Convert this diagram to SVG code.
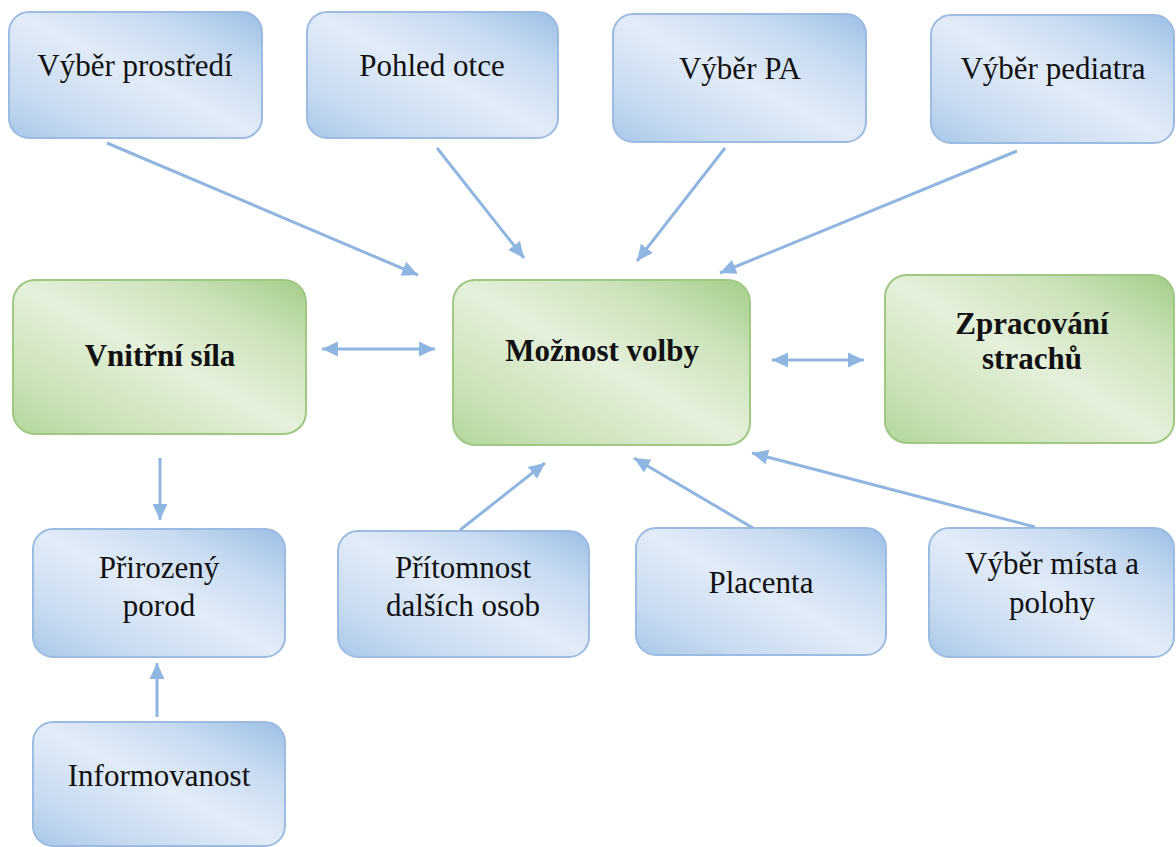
<svg xmlns="http://www.w3.org/2000/svg" width="1176" height="847" viewBox="0 0 1176 847">
<defs>
<linearGradient id="gb" x1="0" y1="1" x2="1" y2="0">
<stop offset="0" stop-color="#a9c7ea"/>
<stop offset="0.2" stop-color="#c6daf0"/>
<stop offset="0.5" stop-color="#e2ecf8"/>
<stop offset="0.75" stop-color="#c8dbf1"/>
<stop offset="1" stop-color="#9bbfe6"/>
</linearGradient>
<linearGradient id="gg" x1="0" y1="1" x2="1" y2="0">
<stop offset="0" stop-color="#b3d69a"/>
<stop offset="0.2" stop-color="#cae2b8"/>
<stop offset="0.5" stop-color="#e5f0db"/>
<stop offset="0.75" stop-color="#cce3bb"/>
<stop offset="1" stop-color="#a4cd87"/>
</linearGradient>
<marker id="ah" markerUnits="userSpaceOnUse" markerWidth="17" markerHeight="16" refX="16" refY="8" orient="auto-start-reverse" viewBox="0 0 17 16">
<path d="M0,0.5 L16,8 L0,15.5 z" fill="#8fb6e1"/>
</marker>
</defs>
<style>
.b{fill:url(#gb);stroke:#9dbbe0;stroke-width:2}
.g{fill:url(#gg);stroke:#9fc883;stroke-width:2}
text{font-family:'Liberation Serif','Times New Roman',serif;font-size:31px;fill:#111;text-anchor:middle}
.tb{font-weight:bold}
.c line{stroke:#8fb6e1;stroke-width:3;fill:none}
</style>
<rect width="1176" height="847" fill="#ffffff"/>

<g id="vyber-prostredi"><rect class="b" x="9" y="12" width="253" height="126" rx="20"/><text x="135" y="76">Výběr prostředí</text></g>
<g id="pohled-otce"><rect class="b" x="307" y="12" width="251" height="126" rx="20"/><text x="432" y="76">Pohled otce</text></g>
<g id="vyber-pa"><rect class="b" x="613" y="14" width="253" height="128" rx="20"/><text x="740" y="79">Výběr PA</text></g>
<g id="vyber-pediatra"><rect class="b" x="931" y="15" width="243" height="128" rx="20"/><text x="1053" y="79">Výběr pediatra</text></g>

<g id="vnitrni-sila"><rect class="g" x="13" y="280" width="293" height="154" rx="22"/><text class="tb" x="160" y="366">Vnitřní síla</text></g>
<g id="moznost-volby"><rect class="g" x="453" y="280" width="297" height="165" rx="22"/><text class="tb" x="602" y="361">Možnost volby</text></g>
<g id="zpracovani-strachu"><rect class="g" x="885" y="275" width="289" height="168" rx="22"/><text class="tb" x="1032" y="334">Zpracování</text><text class="tb" x="1032" y="369">strachů</text></g>

<g id="prirozeny-porod"><rect class="b" x="33" y="529" width="252" height="128" rx="20"/><text x="159" y="578">Přirozený</text><text x="159" y="616">porod</text></g>
<g id="pritomnost"><rect class="b" x="338" y="531" width="251" height="126" rx="20"/><text x="463" y="578">Přítomnost</text><text x="463" y="616">dalších osob</text></g>
<g id="placenta"><rect class="b" x="636" y="528" width="250" height="127" rx="20"/><text x="761" y="593">Placenta</text></g>
<g id="vyber-mista"><rect class="b" x="929" y="528" width="245" height="129" rx="20"/><text x="1052" y="574">Výběr místa a</text><text x="1052" y="613">polohy</text></g>
<g id="informovanost"><rect class="b" x="33" y="722" width="252" height="124" rx="20"/><text x="159" y="786">Informovanost</text></g>

<g class="c" id="connectors">
<line x1="107" y1="143" x2="418" y2="275" marker-end="url(#ah)"/>
<line x1="437" y1="148" x2="524" y2="258" marker-end="url(#ah)"/>
<line x1="725" y1="148" x2="637" y2="261" marker-end="url(#ah)"/>
<line x1="1017" y1="151" x2="720" y2="273" marker-end="url(#ah)"/>
<line x1="322" y1="349" x2="435" y2="349" marker-start="url(#ah)" marker-end="url(#ah)"/>
<line x1="772" y1="360" x2="864" y2="360" marker-start="url(#ah)" marker-end="url(#ah)"/>
<line x1="160" y1="458" x2="160" y2="520" marker-end="url(#ah)"/>
<line x1="157" y1="717" x2="157" y2="663" marker-end="url(#ah)"/>
<line x1="460" y1="530" x2="545" y2="463" marker-end="url(#ah)"/>
<line x1="753" y1="528" x2="634" y2="458" marker-end="url(#ah)"/>
<line x1="1035" y1="527" x2="752" y2="453" marker-end="url(#ah)"/>
</g>
</svg>
